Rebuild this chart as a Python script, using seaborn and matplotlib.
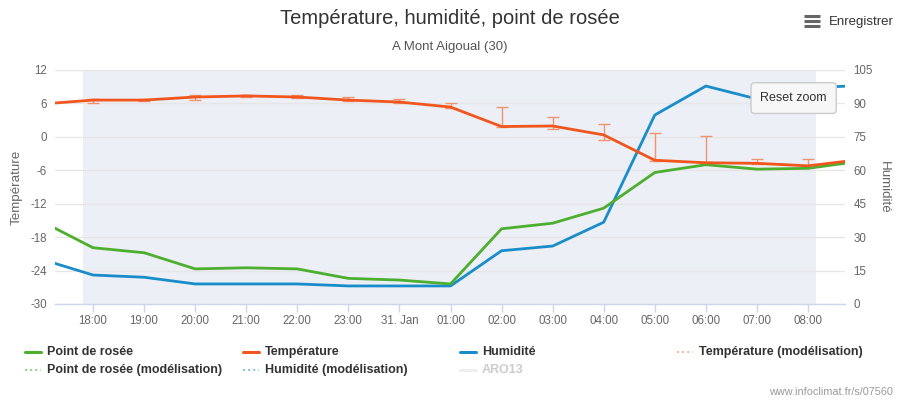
import numpy as np
import pandas as pd
import matplotlib
matplotlib.use("Agg")
import matplotlib.pyplot as plt
import seaborn as sns
from matplotlib.lines import Line2D

# ---- data -------------------------------------------------------------
times = ["17:00", "18:00", "19:00", "20:00", "21:00", "22:00", "23:00", "00:00",
         "01:00", "02:00", "03:00", "04:00", "05:00", "06:00", "07:00", "08:00", "09:00"]
tick_labels = ["18:00", "19:00", "20:00", "21:00", "22:00", "23:00", "31. Jan",
               "01:00", "02:00", "03:00", "04:00", "05:00", "06:00", "07:00", "08:00"]
temperature = [5.9, 6.6, 6.6, 7.15, 7.35, 7.15, 6.6, 6.25, 5.35, 1.85, 1.95, 0.35,
               -4.2, -4.65, -4.75, -5.2, -4.1]
dew_point = [-15.2, -19.9, -20.8, -23.7, -23.5, -23.7, -25.4, -25.7, -26.4, -16.5,
             -15.5, -12.8, -6.4, -5.0, -5.8, -5.65, -4.4]
humidity = [20.0, 13.0, 12.0, 9.0, 9.0, 9.0, 8.1, 8.1, 8.1, 23.9, 26.0, 36.7,
            84.8, 97.8, 92.0, 97.0, 98.0]
model_times = times[1:16]
model_high = [6.8, 6.75, 7.5, 7.6, 7.6, 7.1, 6.75, 6.0, 5.3, 3.6, 2.25, 0.65, 0.2, -4.0, -4.0]
model_low = [6.0, 6.5, 6.55, 7.2, 7.0, 6.4, 6.0, 5.2, 1.7, 1.5, -0.55, -4.3, -4.6, -4.9, -5.45]
left_ticks = [-30, -24, -18, -12, -6, 0, 6, 12]
right_ticks = [0, 15, 30, 45, 60, 75, 90, 105]

legend_labels = ["Point de rosée", "Température", "Humidité", "Température (modélisation)",
                 "Point de rosée (modélisation)", "Humidité (modélisation)", "ARO13"]

# ---- styling ----------------------------------------------------------
sns.set_theme(style="white")
plt.rcParams["font.family"] = ["Liberation Sans", "DejaVu Sans"]
plt.rcParams["axes.unicode_minus"] = False

C_GREEN = "#4caf2e"
C_TEMP = "#f0561d"
C_BLUE = "#198dca"
C_MODEL = "#f09470"
C_BAND = "#eceff6"
C_GRID = "#e6e6e6"
C_TXT = "#666666"

pos = {t: i for i, t in enumerate(times)}
df = pd.DataFrame({"x": [pos[t] for t in times], "temp": temperature,
                   "dew": dew_point, "hum": humidity})
dfm = pd.DataFrame({"x": [pos[t] for t in model_times], "hi": model_high, "lo": model_low})

fig = plt.figure(figsize=(9, 4), dpi=100)
ax = fig.add_axes([0.0611, 0.24, 0.8778, 0.585])
ax2 = ax.twinx()
# humidity axes underneath, temperature axes on top (transparent)
ax.set_zorder(ax2.get_zorder() + 1)
ax.patch.set_visible(False)

xlim = (pos["18:00"] - 0.745, pos["08:00"] + 0.725)
ax2.axvspan(pos["18:00"] - 0.196, pos["08:00"] + 0.157, color=C_BAND, zorder=0, lw=0)

# grid
for v in right_ticks:
    ax2.axhline(v, color=C_GRID, lw=0.9, zorder=0.5)

sns.lineplot(data=df, x="x", y="hum", ax=ax2, color=C_BLUE, lw=2, zorder=3, legend=False)

# error bars (modelisation)
mid = (dfm["hi"] + dfm["lo"]) / 2
ax.errorbar(dfm["x"], mid, yerr=[mid - dfm["lo"], dfm["hi"] - mid], fmt="none",
            ecolor=C_MODEL, elinewidth=1.0, capsize=4.5, capthick=1.0, zorder=2)

sns.lineplot(data=df, x="x", y="dew", ax=ax, color=C_GREEN, lw=2, zorder=3, legend=False)
sns.lineplot(data=df, x="x", y="temp", ax=ax, color=C_TEMP, lw=2, zorder=4, legend=False)

ax.set_xlim(*xlim)
ax2.set_xlim(*xlim)
ax.set_ylim(-30, 12)
ax2.set_ylim(0, 105)
ax.set_yticks(left_ticks)
ax2.set_yticks(right_ticks)
ax.set_xticks([pos[t] for t in times[1:16]])
ax.set_xticklabels(tick_labels)

for a in (ax, ax2):
    for s in a.spines.values():
        s.set_visible(False)
ax.spines["bottom"].set_visible(True)
ax.spines["bottom"].set_color("#ccd6eb")
ax.spines["bottom"].set_linewidth(1)
ax.tick_params(axis="x", length=6, width=1, color="#ccd6eb", labelsize=8.3,
               labelcolor=C_TXT, pad=2, direction="out", bottom=True)
ax.tick_params(axis="y", length=0, labelsize=8.3, labelcolor=C_TXT, pad=6)
ax2.tick_params(axis="y", length=0, labelsize=8.3, labelcolor=C_TXT, pad=6)
ax.set_xlabel("")
ax.set_ylabel("Température", fontsize=9.6, color=C_TXT, labelpad=5)
ax2.set_ylabel("Humidité", fontsize=9.6, color=C_TXT, rotation=270, labelpad=12)

# Reset zoom button
ax.text(0.935, 0.880, "Reset zoom", transform=ax.transAxes, ha="center", va="center",
        fontsize=9, color="#333333", zorder=10, clip_on=False,
        bbox=dict(boxstyle="round,pad=0.75,rounding_size=0.3", fc="#f7f7f7", ec="#cccccc", lw=1))

# Titles
fig.text(0.5, 0.955, "Température, humidité, point de rosée", ha="center", va="center",
         fontsize=14.5, color="#333333")
fig.text(0.5, 0.882, "A Mont Aigoual (30)", ha="center", va="center", fontsize=9.5, color="#555555")
fig.text(0.921, 0.945, "Enregistrer", ha="left", va="center", fontsize=9.5, color="#333333")
for yy in (16, 21, 26):
    fig.add_artist(Line2D([804 / 900, 820 / 900], [1 - yy / 400, 1 - yy / 400], color="#666666",
                          lw=2.2, solid_capstyle="butt", transform=fig.transFigure))

# Legend (manual, equal columns)
col_x = [25, 243, 460, 677]
row_y = [352, 370]
slots = [(0, 0), (1, 0), (2, 0), (3, 0), (0, 1), (1, 1), (2, 1)]
styles = [(C_GREEN, "-", 2.2, "#333333"), (C_TEMP, "-", 2.2, "#333333"),
          (C_BLUE, "-", 2.2, "#333333"), ("#f5b59c", ":", 1.4, "#333333"),
          ("#8fd07a", ":", 1.4, "#333333"), ("#7fc4e8", ":", 1.4, "#333333"),
          ("#eeeeee", "-", 2.2, "#cccccc")]
for lab, (ci, ri), (col, ls, lw, tc) in zip(legend_labels, slots, styles):
    x0 = col_x[ci] / 900
    y0 = 1 - row_y[ri] / 400
    fig.add_artist(Line2D([x0, x0 + 16 / 900], [y0, y0], color=col, ls=ls, lw=lw,
                          transform=fig.transFigure))
    fig.text(x0 + 22 / 900, y0, lab, ha="left", va="center", fontsize=9,
             fontweight="bold", color=tc)

fig.text(0.992, 0.02, "www.infoclimat.fr/s/07560", ha="right", va="center",
         fontsize=7.8, color="#999999")

fig.savefig("out.png", dpi=100)
